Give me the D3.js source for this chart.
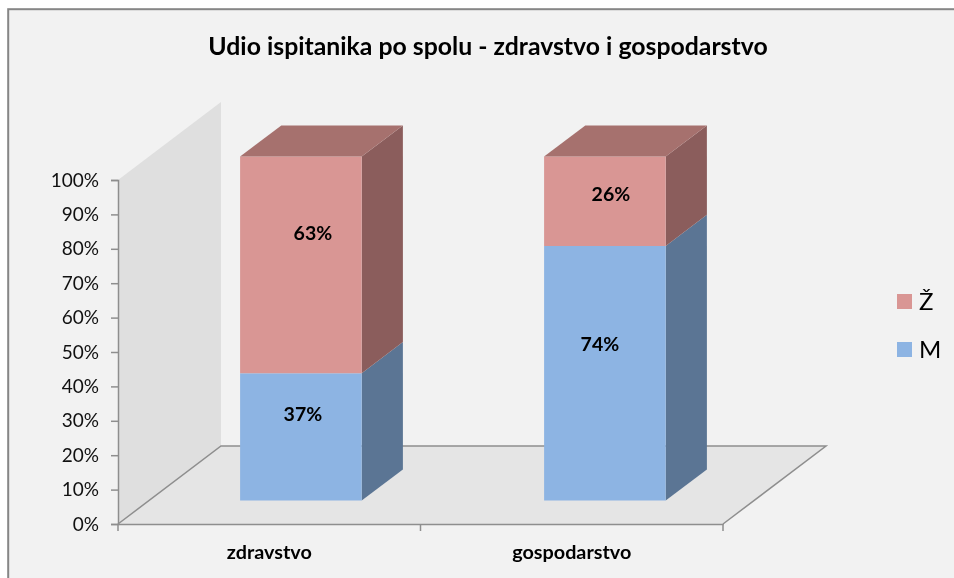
<!DOCTYPE html>
<html>
<head>
<meta charset="utf-8">
<script src="https://cdn.jsdelivr.net/npm/d3@7"></script>
<style>
  body { margin: 0; background: #fff; }
  svg { display: block; font-family: Lato, sans-serif; filter: blur(0.35px); }
</style>
</head>
<body>
<svg id="chart" width="954" height="578"></svg>
<script>
// values
const categories = ["zdravstvo", "gospodarstvo"];
const seriesM = [37, 74];
const seriesZ = [63, 26];
const yTicks = [0, 10, 20, 30, 40, 50, 60, 70, 80, 90, 100];
const legendNames = ["Ž", "M"];

const titleText = "Udio ispitanika po spolu - zdravstvo i gospodarstvo";

const svg = d3.select("#chart");

// chart area background
svg.append("rect")
    .attr("x", 8.2).attr("y", 9.2)
    .attr("width", 960).attr("height", 600)
    .attr("fill", "#f2f2f2")
    .attr("stroke", "#868686")
    .attr("stroke-width", 2);

svg.append("text")
    .attr("x", 488).attr("y", 55)
    .attr("text-anchor", "middle")
    .attr("font-size", 24.8)
    .attr("font-weight", 700)
    .attr("fill", "#000")
    .text(titleText);

// oblique projection: depth 0 = front of the floor, depth 1 = back wall
const depthX = 103, depthY = 78;
const x0 = 118, x1 = 723;
const baseY = 524, topY = 180;

const xScale = d3.scaleBand().domain(categories).range([x0, x1]);
// the bars sit a little wider apart than the axis cells
const barScale = d3.scaleBand().domain(categories).range([x0, x0 + 608]).paddingInner(0.6).paddingOuter(0.3);
const yScale = d3.scaleLinear().domain([0, 100]).range([baseY, topY]);

const px = (x, depth) => x + depth * depthX;
const py = (v, depth) => yScale(v) - depth * depthY;
const poly = pts => pts.map(p => p.join(",")).join(" ");

// back wall and floor
const g3d = svg.append("g");
g3d.append("polygon")
    .attr("points", poly([[px(x0, 0), py(0, 0)], [px(x0, 0), py(100, 0)], [px(x0, 1), py(100, 1)], [px(x0, 1), py(0, 1)]]))
    .attr("fill", "#dfdfdf");
g3d.append("polygon")
    .attr("points", poly([[px(x0, 0), py(0, 0)], [px(x1, 0), py(0, 0)], [px(x1, 1), py(0, 1)], [px(x0, 1), py(0, 1)]]))
    .attr("fill", "#e5e5e5");
g3d.append("polyline")
    .attr("points", poly([[px(x0, 0), py(0, 0)], [px(x0, 1), py(0, 1)], [px(x1, 1), py(0, 1)], [px(x1, 0), py(0, 0)]]))
    .attr("fill", "none").attr("stroke", "#8e8e8e").attr("stroke-width", 1.5);

// axes
const yAxis = d3.axisLeft(yScale).tickValues(yTicks).tickFormat(d => d + "%").tickSize(7).tickPadding(12);
const yG = svg.append("g").attr("transform", `translate(${x0},0)`).call(yAxis);
yG.selectAll("text").attr("font-size", 19).attr("font-family", "Lato, sans-serif").attr("fill", "#111");
yG.selectAll("line,path").attr("stroke", "#8e8e8e").attr("stroke-width", 1.5);

const xAxis = d3.axisBottom(xScale).tickSize(0).tickPadding(0);
const xG = svg.append("g").attr("transform", `translate(0,${baseY})`).call(xAxis);
xG.select("path").attr("stroke", "#8e8e8e").attr("stroke-width", 1.5);
xG.selectAll("text")
    .attr("font-size", 19.8).attr("font-weight", 700).attr("font-family", "Lato, sans-serif").attr("fill", "#000")
    .attr("dy", 0).attr("y", 35).attr("text-anchor", "middle");

// tick marks between the categories
svg.append("g").selectAll("line")
    .data([x0, (x0 + x1) / 2, x1])
    .join("line")
    .attr("x1", d => d).attr("x2", d => d)
    .attr("y1", baseY).attr("y2", baseY + 7)
    .attr("stroke", "#8e8e8e").attr("stroke-width", 1.5);

// bars
const stackSeries = [
  {name: "M", values: seriesM, front: "#8db4e3", side: "#5b7594", top: "#6f8db3", shift: [[2, -23], [-5, -29]]},
  {name: "Ž", values: seriesZ, front: "#d99694", side: "#8b5d5c", top: "#a6716e", shift: [[12, -32], [6, -7]]}
];
const d0 = 0.3, d1 = 0.7;

categories.forEach((cat, i) => {
  const xa = barScale(cat), xb = xa + barScale.bandwidth();
  let acc = 0;
  const barG = svg.append("g").attr("class", "bar");
  stackSeries.forEach((s, si) => {
    const lo = acc, hi = acc + s.values[i];
    acc = hi;
    // right side
    barG.append("polygon")
        .attr("points", poly([[px(xb, d0), py(lo, d0)], [px(xb, d1), py(lo, d1)], [px(xb, d1), py(hi, d1)], [px(xb, d0), py(hi, d0)]]))
        .attr("fill", s.side);
    // front
    barG.append("polygon")
        .attr("points", poly([[px(xa, d0), py(lo, d0)], [px(xb, d0), py(lo, d0)], [px(xb, d0), py(hi, d0)], [px(xa, d0), py(hi, d0)]]))
        .attr("fill", s.front);
    // lid only on the last segment
    if (si === stackSeries.length - 1) {
      barG.append("polygon")
          .attr("points", poly([[px(xa, d0), py(hi, d0)], [px(xb, d0), py(hi, d0)], [px(xb, d1), py(hi, d1)], [px(xa, d1), py(hi, d1)]]))
          .attr("fill", s.top);
    }
    // labels were moved by hand in the original, not centred on the segment
    barG.append("text")
        .attr("x", (px(xa, d0) + px(xb, d0)) / 2 + s.shift[i][0])
        .attr("y", (py(lo, d0) + py(hi, d0)) / 2 + 7 + s.shift[i][1])
        .attr("text-anchor", "middle")
        .attr("font-size", 19.5).attr("font-weight", 700)
        .attr("fill", "#000")
        .text(s.values[i] + "%");
  });
});

// legend
const legendColor = d3.scaleOrdinal().domain(legendNames).range(["#d99694", "#8db4e3"]);
const legendY = d3.scalePoint().domain(legendNames).range([301.5, 349.5]);
const legend = svg.append("g").selectAll("g").data(legendNames).join("g")
    .attr("transform", d => `translate(897,${legendY(d)})`);
legend.append("rect").attr("x", 0).attr("y", -7.5).attr("width", 15).attr("height", 15)
    .attr("fill", d => legendColor(d));
legend.append("text").attr("x", 22).attr("y", 8)
    .attr("font-size", 24).attr("fill", "#000").text(d => d);
</script>
</body>
</html>
